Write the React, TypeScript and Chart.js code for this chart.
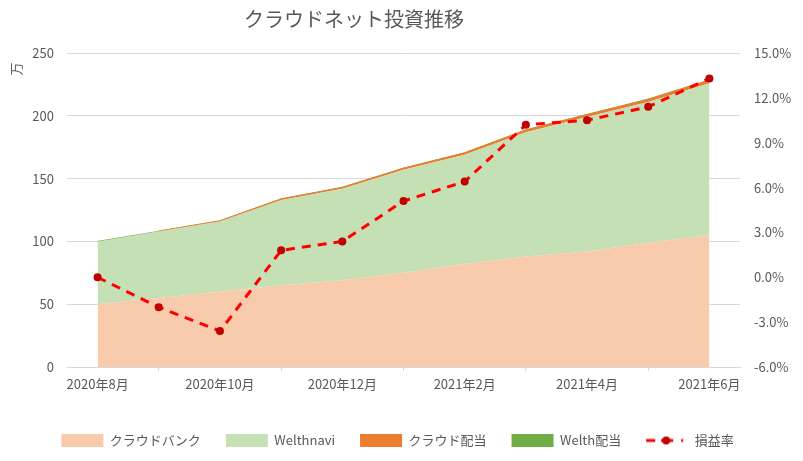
import React, { useEffect, useRef } from "react";
import { Chart, registerables } from "chart.js";

Chart.register(...registerables);

const months = [
  "2020年8月", "2020年9月", "2020年10月", "2020年11月", "2020年12月", "2021年1月",
  "2021年2月", "2021年3月", "2021年4月", "2021年5月", "2021年6月",
];
// 万円
const crowdBank = [50, 55, 60, 65, 69, 75, 82, 88, 92, 99, 105];
const welthnavi = [50, 53, 56, 68, 73, 82, 87, 99, 107, 112, 121];
const crowdDividend = [0, 0, 0.2, 0.6, 0.8, 1.0, 1.2, 1.4, 1.6, 1.8, 2.0];
const welthDividend = [0, 0, 0.1, 0.2, 0.3, 0.3, 0.4, 0.4, 0.5, 0.5, 0.6];
// %
const profitRate = [0.0, -2.0, -3.6, 1.8, 2.4, 5.1, 6.4, 10.2, 10.5, 11.4, 13.3];

const GREY = "#595959";
const GRID = "#D9D9D9";
const FONT = "'Noto Sans CJK JP', 'Noto Sans', sans-serif";
const PAD_BOTTOM = 4;

// legend icon for the dashed line with marker
const makeLineIcon = () => {
  const c = document.createElement("canvas");
  c.width = 44;
  c.height = 14;
  const ctx = c.getContext("2d")!;
  ctx.strokeStyle = "#FF0000";
  ctx.lineWidth = 3;
  ctx.beginPath();
  ctx.moveTo(1, 7);
  ctx.lineTo(10, 7);
  ctx.moveTo(16, 7);
  ctx.lineTo(28, 7);
  ctx.moveTo(36, 7);
  ctx.lineTo(38, 7);
  ctx.stroke();
  ctx.fillStyle = "#C00000";
  ctx.beginPath();
  ctx.arc(21, 7, 4, 0, Math.PI * 2);
  ctx.fill();
  return c;
};

// the legend sits a little left of centre in the original
const shiftLegend = {
  id: "shiftLegend",
  afterLayout(chart: any) {
    const lg = chart.legend;
    if (lg) {
      lg.left -= 8;
      lg.right -= 8;
    }
  },
};

const App = () => {
  const canvasRef = useRef<HTMLCanvasElement>(null);

  useEffect(() => {
    const ctx = canvasRef.current?.getContext("2d");
    if (!ctx) return;
    Chart.defaults.font.family = FONT;
    const lineIcon = makeLineIcon();

    const area = (label: string, data: number[], color: string, fill: string, bw: number) => ({
      type: "line" as const,
      label,
      data,
      backgroundColor: color,
      borderColor: color,
      borderWidth: bw,
      fill,
      pointRadius: 0,
      pointHoverRadius: 0,
      tension: 0,
      yAxisID: "y",
      order: 1,
      segment: {
        // hide the border where the layer has no value yet
        borderColor: (s: any) =>
          data[s.p0DataIndex] === 0 && data[s.p1DataIndex] === 0 ? "rgba(0,0,0,0)" : undefined,
      },
    });

    const chart = new Chart(ctx, {
      type: "line",
      data: {
        labels: months,
        datasets: [
          area("クラウドバンク", crowdBank, "#F8CBAD", "origin", 0),
          area("Welthnavi", welthnavi, "#C5E0B4", "-1", 0),
          area("クラウド配当", crowdDividend, "#ED7D31", "-1", 1.5),
          { ...area("Welth配当", welthDividend, "#70AD47", "-1", 1), segment: {} },
          {
            type: "line",
            label: "損益率",
            data: profitRate,
            yAxisID: "y1",
            borderColor: "#FF0000",
            borderWidth: 3,
            borderDash: [9, 7],
            fill: false,
            tension: 0,
            pointRadius: 4,
            pointBorderWidth: 0,
            pointBackgroundColor: "#C00000",
            pointBorderColor: "#C00000",
            order: 0,
          },
        ],
      },
      plugins: [shiftLegend],
      options: {
        animation: false,
        responsive: true,
        maintainAspectRatio: false,
        layout: { padding: { left: 8, right: 0, top: 53, bottom: PAD_BOTTOM } },
        plugins: {
          tooltip: { enabled: false },
          legend: {
            position: "bottom",
            labels: {
              color: GREY,
              font: { size: 13, family: FONT },
              usePointStyle: true,
              pointStyleWidth: 42,
              boxHeight: 13,
              padding: 25,
              sort: (a, b) => (a.datasetIndex ?? 0) - (b.datasetIndex ?? 0),
              generateLabels: (c) =>
                Chart.defaults.plugins.legend.labels.generateLabels(c).map((item) => ({
                  ...item,
                  pointStyle: item.datasetIndex === 4 ? lineIcon : "rect",
                  lineWidth: 0,
                  strokeStyle: "rgba(0,0,0,0)",
                  lineDash: [],
                })),
            },
          },
        },
        scales: {
          x: {
            type: "category",
            offset: true,
            grid: { offset: true, drawOnChartArea: false, tickLength: 4, color: GRID },
            border: { color: GRID },
            ticks: {
              autoSkip: false,
              maxRotation: 0,
              color: GREY,
              font: { size: 13 },
              padding: 5,
              callback: (_v, i) => (i % 2 === 0 ? months[i] : null),
            },
            afterFit: (s) => {
              const lg = (s.chart as any).legend;
              s.height = 461 - 367 - PAD_BOTTOM - (lg ? lg.height : 0);
            },
          },
          y: {
            stacked: true,
            min: 0,
            max: 250,
            ticks: { stepSize: 50, color: GREY, font: { size: 13 }, padding: 13 },
            grid: { color: GRID, drawTicks: false },
            border: { display: false },
            title: {
              display: true,
              text: "万\u2002 ",
              align: "end",
              color: GREY,
              font: { size: 13 },
              padding: 0,
            },
            afterFit: (s) => {
              s.width = 59;
            },
          },
          y1: {
            position: "right",
            min: -6,
            max: 15,
            ticks: {
              stepSize: 3,
              color: GREY,
              font: { size: 13 },
              padding: 14,
              callback: (v) => Number(v).toFixed(1) + "%",
            },
            grid: { drawOnChartArea: false, drawTicks: false },
            border: { display: false },
            afterFit: (s) => {
              s.width = 63;
            },
          },
        },
      },
    });

    return () => {
      chart.destroy();
    };
  }, []);

  return (
    <div style={{ position: "fixed", left: 0, top: 0, width: 803, height: 461, background: "#fff" }}>
      <div
        style={{
          position: "absolute",
          left: 354,
          top: 4,
          transform: "translateX(-50%)",
          whiteSpace: "nowrap",
          fontFamily: FONT,
          fontSize: 20,
          lineHeight: "30px",
          color: GREY,
        }}
      >
        クラウドネット投資推移
      </div>
      <canvas ref={canvasRef}></canvas>
    </div>
  );
};

export default App;
